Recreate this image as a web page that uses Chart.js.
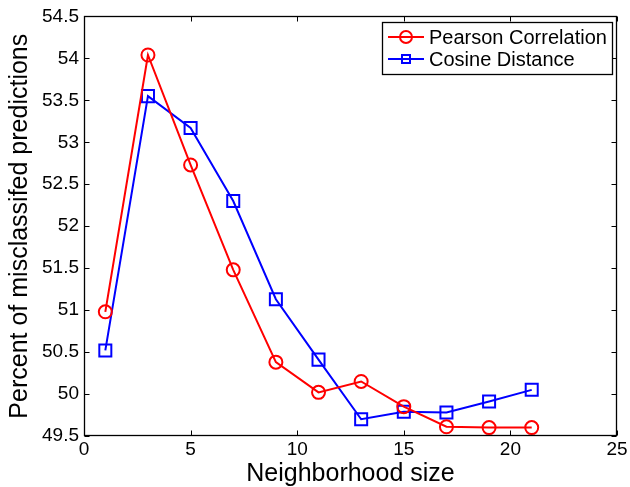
<!DOCTYPE html>
<html>
<head>
<meta charset="utf-8">
<script src="https://cdn.jsdelivr.net/npm/chart.js@4/dist/chart.umd.min.js"></script>
<style>
  html, body { margin: 0; padding: 0; background: #fff; }
  #wrap { width: 630px; height: 487px; }
</style>
</head>
<body>
<div id="wrap"><canvas id="c" width="630" height="487"></canvas></div>
<script>
const neighborhoodSizes = [1, 3, 5, 7, 9, 11, 13, 15, 17, 19, 21];
const pearsonCorrelation = [50.98, 54.04, 52.73, 51.48, 50.38, 50.02, 50.15, 49.85, 49.61, 49.60, 49.60];
const cosineDistance = [50.52, 53.55, 53.17, 52.30, 51.13, 50.41, 49.70, 49.79, 49.78, 49.91, 50.05];
const seriesNames = ['Pearson Correlation', 'Cosine Distance'];
const xTicks = [0, 5, 10, 15, 20, 25];
const yTickLabels = ['49.5', '50', '50.5', '51', '51.5', '52', '52.5', '53', '53.5', '54', '54.5'];
const xTitle = 'Neighborhood size';
const yTitle = 'Percent of misclassifed predictions';

const FONT = '"Liberation Sans", Arial, Helvetica, sans-serif';

const toPoints = (xs, ys) => xs.map((x, i) => ({ x: x, y: ys[i] }));

const framePlugin = {
  id: 'matlabFrame',
  afterDatasetsDraw(chart) {
    const ctx = chart.ctx;
    const a = chart.chartArea;
    const xs = chart.scales.x, ys = chart.scales.y;
    const L = Math.round(a.left) + 0.5, R = Math.round(a.right) - 0.5;
    const T = Math.round(a.top) + 0.5, B = Math.round(a.bottom) - 0.5;
    ctx.save();
    ctx.strokeStyle = '#000';
    ctx.lineWidth = 1.3;
    ctx.strokeRect(L, T, R - L, B - T);
    const tl = 5;
    ctx.beginPath();
    xs.ticks.forEach(t => {
      const px = Math.round(xs.getPixelForValue(t.value)) + 0.5;
      ctx.moveTo(px, B); ctx.lineTo(px, B - tl);
      ctx.moveTo(px, T); ctx.lineTo(px, T + tl);
    });
    ys.ticks.forEach(t => {
      const py = Math.round(ys.getPixelForValue(t.value)) + 0.5;
      ctx.moveTo(L, py); ctx.lineTo(L + tl, py);
      ctx.moveTo(R, py); ctx.lineTo(R - tl, py);
    });
    ctx.lineWidth = 1;
    ctx.stroke();

    // legend
    const bx = 382.5, by = 22.5, bw = 230, bh = 52;
    ctx.fillStyle = '#fff';
    ctx.fillRect(bx, by, bw, bh);
    ctx.lineWidth = 1.3;
    ctx.strokeStyle = '#000';
    ctx.strokeRect(bx, by, bw, bh);
    const rows = [37, 59];
    chart.data.datasets.forEach((ds, i) => {
      const y = rows[i];
      ctx.strokeStyle = ds.borderColor;
      ctx.lineWidth = 2;
      ctx.beginPath();
      ctx.moveTo(388, y); ctx.lineTo(424, y);
      ctx.stroke();
      ctx.beginPath();
      if (ds.pointStyle === 'circle') {
        ctx.arc(406, y, 6, 0, Math.PI * 2);
      } else {
        ctx.rect(402, y - 4, 8, 8);
      }
      ctx.stroke();
      ctx.fillStyle = '#000';
      ctx.font = '20px ' + FONT;
      ctx.textBaseline = 'middle';
      ctx.textAlign = 'left';
      ctx.fillText(ds.label, 429, y + 1);
    });
    ctx.restore();
  }
};

new Chart(document.getElementById('c'), {
  type: 'line',
  data: {
    datasets: [
      {
        label: seriesNames[0],
        data: toPoints(neighborhoodSizes, pearsonCorrelation),
        borderColor: '#ff0000',
        backgroundColor: 'rgba(0,0,0,0)',
        borderWidth: 2,
        pointStyle: 'circle',
        pointRadius: 6.5,
        pointBorderWidth: 2,
        pointBorderColor: '#ff0000',
        pointBackgroundColor: 'rgba(0,0,0,0)',
        tension: 0
      },
      {
        label: seriesNames[1],
        data: toPoints(neighborhoodSizes, cosineDistance),
        borderColor: '#0000ff',
        backgroundColor: 'rgba(0,0,0,0)',
        borderWidth: 2,
        pointStyle: 'rect',
        pointRadius: 8.5,
        pointBorderWidth: 2,
        pointBorderColor: '#0000ff',
        pointBackgroundColor: 'rgba(0,0,0,0)',
        tension: 0
      }
    ]
  },
  options: {
    responsive: false,
    animation: false,
    devicePixelRatio: 1,
    layout: { padding: { left: 0, right: 13, top: 15, bottom: 0 } },
    plugins: {
      legend: { display: false },
      tooltip: { enabled: false }
    },
    scales: {
      x: {
        type: 'linear',
        min: xTicks[0],
        max: xTicks[xTicks.length - 1],
        afterBuildTicks(scale) { scale.ticks = xTicks.map(v => ({ value: v })); },
        afterFit(scale) { scale.height = 51; },
        grid: { display: false, drawTicks: false },
        border: { display: false },
        ticks: {
          color: '#000',
          padding: 2,
          maxRotation: 0,
          font: { family: FONT, size: 19 },
          callback: v => String(v)
        },
        title: {
          display: true,
          text: xTitle,
          color: '#000',
          font: { family: FONT, size: 25, lineHeight: 1 },
          padding: { top: 0, bottom: 0 }
        }
      },
      y: {
        type: 'linear',
        min: 49.5,
        max: 54.5,
        afterBuildTicks(scale) {
          scale.ticks = yTickLabels.map(s => ({ value: parseFloat(s) }));
        },
        afterFit(scale) { scale.width = 84; },
        grid: { display: false, drawTicks: false },
        border: { display: false },
        ticks: {
          color: '#000',
          padding: 5,
          font: { family: FONT, size: 19 },
          callback: (v, i) => yTickLabels[i]
        },
        title: {
          display: true,
          text: yTitle,
          color: '#000',
          font: { family: FONT, size: 25, lineHeight: 1 },
          padding: { top: 8, bottom: 0 }
        }
      }
    }
  },
  plugins: [framePlugin]
});
</script>
</body>
</html>
